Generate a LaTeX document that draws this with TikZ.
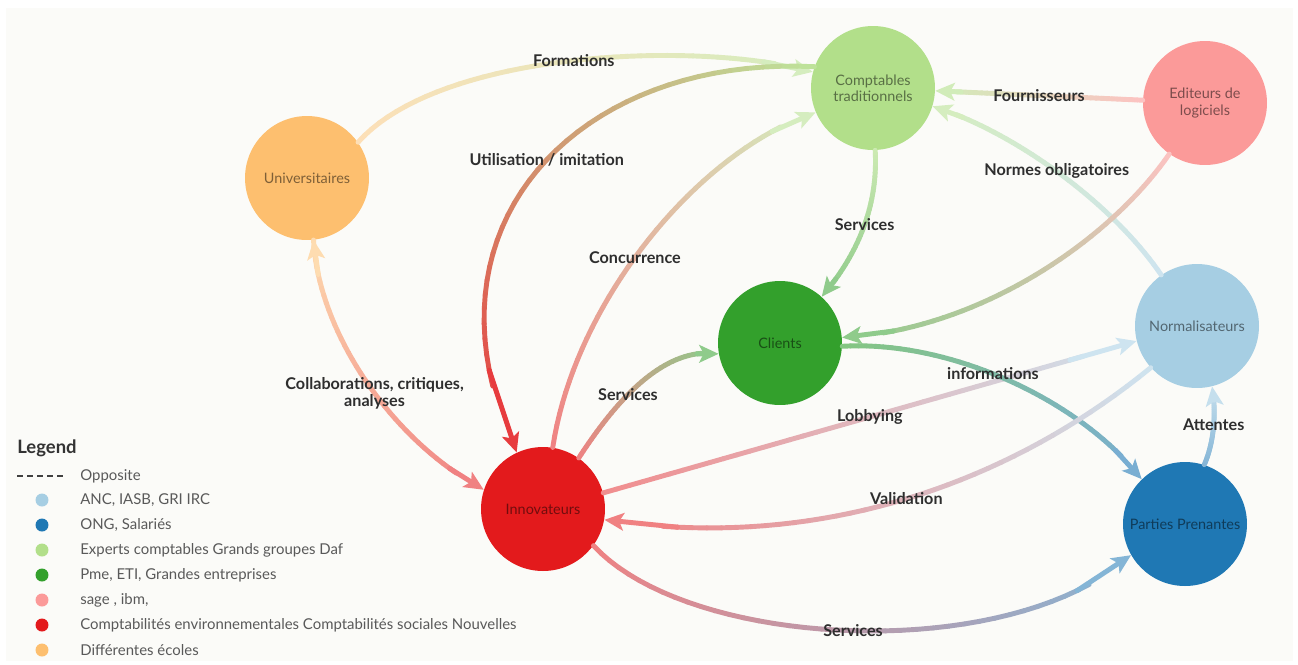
\documentclass[tikz,border=0pt]{standalone}
\usepackage{fontspec}
\setmainfont{Lato}
\usetikzlibrary{arrows.meta}

\definecolor{paper}{HTML}{FBFBF8}
\definecolor{normcol}{HTML}{A6CEE3}
\definecolor{ppcol}{HTML}{1F78B4}
\definecolor{compcol}{HTML}{B2DF8A}
\definecolor{clicol}{HTML}{33A02C}
\definecolor{editcol}{HTML}{FB9A99}
\definecolor{innocol}{HTML}{E31A1C}
\definecolor{unicol}{HTML}{FDBF6F}

\tikzset{
  actor/.style={circle, minimum size=2.48cm, inner sep=0pt, align=center,
    font=\fontsize{8.2}{9.2}\selectfont, text=black, text opacity=0.5},
  linkpart/.style={line width=2.8pt, line cap=round},
  lbl/.style={font=\bfseries\fontsize{9.2}{9.6}\selectfont, text=black!82, inner sep=1pt},
  legtext/.style={anchor=west, inner sep=0pt, font=\fontsize{8.5}{10}\selectfont, text=black!65},
  dot/.style={circle, minimum size=0.26cm, inner sep=0pt},
}

% colour runs along the link from source to target: 40 short pieces, then the tip
\newcommand{\gradlink}[3]{%
  \colorlet{linkA}{#1}\colorlet{linkB}{#2}%
  \path #3 foreach \k [evaluate=\k as \t using \k/40] in {0,...,40} {coordinate[pos=\t] (g\k)};
  \foreach \k [evaluate=\k as \nx using int(\k+1), evaluate=\k as \pc using 98.75-2.5*\k] in {0,...,35}
    \draw[linkpart, linkA!\pc!linkB] (g\k) -- (g\nx);
  \draw[linkpart, linkB, ->] (g35) -- (g40);
}

\begin{document}
\begin{tikzpicture}[x=0.02cm, y=-0.02cm, >={Stealth[length=11pt, width=10pt, inset=2.5pt]}]
  \useasboundingbox (0,0) rectangle (1298,664);
  \fill[paper] (6,8) rectangle (1293,661);

  % actors
  \node[actor, fill=unicol] (uni) at (307,178) {Universitaires};
  \node[actor, fill=compcol] (comp) at (873,88) {Comptables\\traditionnels};
  \node[actor, fill=editcol] (edit) at (1205,103) {Editeurs de\\logiciels};
  \node[actor, fill=clicol] (cli) at (780,343) {Clients};
  \node[actor, fill=normcol] (norm) at (1197,326) {Normalisateurs};
  \node[actor, fill=innocol] (inno) at (543,509) {Innovateurs};
  \node[actor, fill=ppcol] (pp) at (1185,524) {Parties Prenantes};

  % links
  \gradlink{unicol!50}{compcol!55}{(uni.35) .. controls (440,50) and (700,40) .. (comp.165)}
  \node[lbl] (lbForm) at (g20) {Formations};
  \gradlink{compcol!85}{innocol!85}{(comp.160) .. controls (580,55) and (410,225) .. (inno.115)}
  \node[lbl] (lbUtil) at (g19) {Utilisation / imitation};
  \gradlink{innocol!55}{compcol!55}{(inno.81) .. controls (575,300) and (700,150) .. (comp.203)}
  \node[lbl] (lbConc) at (g18) {Concurrence};
  \gradlink{compcol!65}{clicol!55}{(comp.272) .. controls (878,200) and (862,250) .. (cli.48)}
  \node[lbl] (lbServA) at (g20) {Services};
  \gradlink{editcol!60}{compcol!60}{(edit) -- (comp)}
  \node[lbl] (lbFourn) at (g20) {Fournisseurs};
  \gradlink{normcol!55}{compcol!55}{(norm.125) .. controls (1110,200) and (1010,130) .. (comp.343)}
  \node[lbl] (lbNorm) at (g20) {Normes obligatoires};
  \gradlink{editcol!60}{clicol!55}{(edit.235) .. controls (1110,240) and (980,330) .. (cli.5)}
  \gradlink{innocol!50}{normcol!55}{(inno.15) -- (norm.194)}
  \node[lbl] (lbLobby) at (g20) {Lobbying};
  \gradlink{clicol!60}{ppcol!60}{(cli.-3) .. controls (950,340) and (1080,400) .. (pp.134)}
  \node[lbl] (lbInfo) at (g18) {informations};
  \gradlink{innocol!55}{clicol!55}{(inno.55) .. controls (610,410) and (660,345) .. (cli.190)}
  \node[lbl] (lbServB) at (g17) {Services};
  \gradlink{normcol!55}{innocol!55}{(norm.222) .. controls (995,495) and (800,550) .. (inno.350)}
  \node[lbl] (lbValid) at (g19) {Validation};
  \gradlink{innocol!55}{ppcol!55}{(inno.324) .. controls (690,650) and (1010,665) .. (pp.210)}
  \node[lbl] (lbServC) at (g20) {Services};
  \gradlink{ppcol!55}{normcol!65}{(pp.72) .. controls (1215,440) and (1216,410) .. (norm.284)}
  \node[lbl] (lbAtt) at (g20) {Attentes};
  \gradlink{unicol!55}{innocol!55}{(uni.276) .. controls (318,330) and (390,440) .. (inno.162)}
  \draw[linkpart, linkA, <-] (g0) -- (g5);
  \node[lbl, align=center] (lbCollab) at (g22) {Collaborations, critiques,\\analyses};

  % legend
  \node[anchor=west, inner sep=0pt, font=\bfseries\fontsize{10.5}{12}\selectfont, text=black!80] (legtitle) at (17,448) {Legend};
  \coordinate (dashL) at (17,476);
  \coordinate (dashR) at (63,476);
  \draw[black!75, line width=0.6pt, dash pattern=on 3.2pt off 2.5pt] (dashL) -- (dashR);
  \node[legtext] (opp) at (80,476) {Opposite};
  \begin{scope}
    \clip (0,487) rectangle (517,664);
    \foreach \col/\txt [count=\i] in {normcol/{ANC, IASB, GRI IRC}, ppcol/{ONG, Salariés},
        compcol/{Experts comptables Grands groupes Daf}, clicol/{Pme, ETI, Grandes entreprises},
        editcol/{sage , ibm,}, innocol/{Comptabilités environnementales Comptabilités sociales Nouvelles},
        unicol/{Différentes écoles}}
    {
      \node[dot, fill=\col] (dot\i) at (42,{475+25*\i}) {};
      \node[legtext] (leg\i) at (80,{475+25*\i}) {\txt};
    }
  \end{scope}
\end{tikzpicture}
\end{document}
